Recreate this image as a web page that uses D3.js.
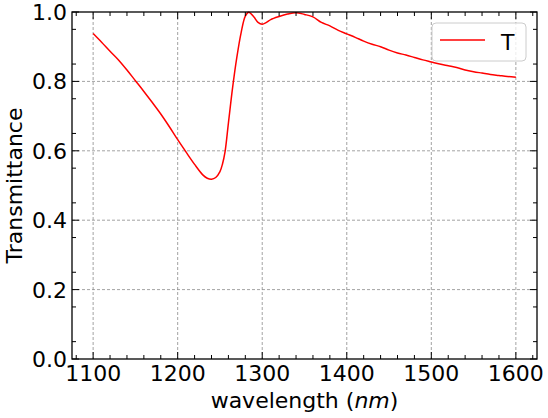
<!DOCTYPE html>
<html>
<head>
<meta charset="utf-8">
<script src="https://cdn.jsdelivr.net/npm/d3@7"></script>
<style>
  body { margin: 0; background: #fff; }
  text { font-family: "DejaVu Sans", sans-serif; }
</style>
</head>
<body>
<div id="chart"></div>
<script>
var wavelength = [1100, 1110, 1120, 1130, 1140, 1150, 1160, 1170, 1180, 1190,
    1200, 1210, 1220, 1230, 1235, 1240, 1245, 1250, 1253, 1256, 1260,
    1265, 1270, 1275, 1280, 1284, 1290, 1295, 1300, 1305, 1310,
    1320, 1330, 1340, 1350, 1360, 1370, 1380, 1390, 1400, 1410,
    1420, 1430, 1440, 1450, 1460, 1470, 1480, 1490, 1500, 1510,
    1520, 1530, 1540, 1550, 1560, 1570, 1580, 1590, 1600];
var transmittance = [0.938, 0.913, 0.887, 0.862, 0.833, 0.802, 0.771, 0.739, 0.706, 0.670,
    0.632, 0.596, 0.561, 0.530, 0.521, 0.518, 0.523, 0.540, 0.562, 0.597, 0.680,
    0.783, 0.870, 0.940, 0.988, 0.999, 0.986, 0.970, 0.965, 0.970, 0.978,
    0.987, 0.994, 0.998, 0.993, 0.986, 0.970, 0.960, 0.947, 0.937, 0.927,
    0.916, 0.907, 0.900, 0.890, 0.882, 0.876, 0.869, 0.862, 0.856, 0.850,
    0.845, 0.840, 0.833, 0.828, 0.824, 0.820, 0.817, 0.814, 0.812];
var xTicks = [1100, 1200, 1300, 1400, 1500, 1600];
var yTicks = [0.0, 0.2, 0.4, 0.6, 0.8, 1.0];
var seriesName = "T";

var svgWidth = 548;
var svgHeight = 418;
var margin = { top: 12, right: 11, bottom: 59, left: 72 };
var width = svgWidth - margin.left - margin.right;
var height = svgHeight - margin.top - margin.bottom;
var fontSize = "22px";

var svg = d3.select("#chart").append("svg")
    .attr("width", svgWidth)
    .attr("height", svgHeight);

var g = svg.append("g")
    .attr("transform", `translate(${margin.left}, ${margin.top})`);

var x = d3.scaleLinear().domain([1075, 1625]).range([0, width]);
var y = d3.scaleLinear().domain([0, 1]).range([height, 0]);

var xMinor = d3.range(1080, 1621, 20).filter(v => v % 100 !== 0);
var yMinor = d3.range(0.05, 1, 0.1);

// grid
g.selectAll(".vgrid").data(xTicks).enter().append("line")
    .attr("x1", d => x(d)).attr("x2", d => x(d))
    .attr("y1", 0).attr("y2", height)
    .attr("stroke", "#8c8c8c").attr("stroke-width", 0.8)
    .attr("stroke-dasharray", "3,2");
g.selectAll(".hgrid").data(yTicks.slice(1, -1)).enter().append("line")
    .attr("x1", 0).attr("x2", width)
    .attr("y1", d => y(d)).attr("y2", d => y(d))
    .attr("stroke", "#8c8c8c").attr("stroke-width", 0.8)
    .attr("stroke-dasharray", "3,2");

// curve
var line = d3.line()
    .x((d, i) => x(wavelength[i]))
    .y(d => y(d))
    .curve(d3.curveCatmullRom.alpha(0.5));

g.append("path")
    .datum(transmittance)
    .attr("fill", "none")
    .attr("stroke", "#ff0000")
    .attr("stroke-width", 1.5)
    .attr("d", line);

// ticks inside on all four sides
function ticks(vals, len) {
    vals.forEach(function(v) {
        g.append("line").attr("x1", x(v)).attr("x2", x(v))
            .attr("y1", height).attr("y2", height - len)
            .attr("stroke", "#000").attr("stroke-width", 1);
        g.append("line").attr("x1", x(v)).attr("x2", x(v))
            .attr("y1", 0).attr("y2", len)
            .attr("stroke", "#000").attr("stroke-width", 1);
    });
}
ticks(xTicks, 7);
ticks(xMinor, 4);

function yticks(vals, len) {
    vals.forEach(function(v) {
        g.append("line").attr("x1", 0).attr("x2", len)
            .attr("y1", y(v)).attr("y2", y(v))
            .attr("stroke", "#000").attr("stroke-width", 1);
        g.append("line").attr("x1", width).attr("x2", width - len)
            .attr("y1", y(v)).attr("y2", y(v))
            .attr("stroke", "#000").attr("stroke-width", 1);
    });
}
yticks(yTicks, 7);
yticks(yMinor, 4);

g.append("rect")
    .attr("width", width).attr("height", height)
    .attr("fill", "none").attr("stroke", "#000").attr("stroke-width", 1.3);

// tick labels
g.selectAll(".xl").data(xTicks).enter().append("text")
    .attr("x", d => x(d)).attr("y", height + 22)
    .attr("text-anchor", "middle")
    .attr("font-size", fontSize)
    .text(d => d);
g.selectAll(".yl").data(yTicks).enter().append("text")
    .attr("x", -5).attr("y", d => y(d) + 8)
    .attr("text-anchor", "end")
    .attr("font-size", fontSize)
    .text(d => d.toFixed(1));

// axis labels
var xl = svg.append("text")
    .attr("x", margin.left + width / 2).attr("y", 408)
    .attr("text-anchor", "middle")
    .attr("font-size", fontSize);
xl.append("tspan").text("wavelength (");
xl.append("tspan").attr("font-style", "italic").text("nm");
xl.append("tspan").text(")");

svg.append("text")
    .attr("transform", `translate(22, ${margin.top + height / 2}) rotate(-90)`)
    .attr("text-anchor", "middle")
    .attr("font-size", fontSize)
    .text("Transmittance");

// legend
var leg = svg.append("g").attr("transform", "translate(432, 23)");
leg.append("rect")
    .attr("width", 94).attr("height", 38)
    .attr("rx", 4)
    .attr("fill", "#fff").attr("fill-opacity", 0.8)
    .attr("stroke", "#cccccc").attr("stroke-width", 1);
leg.append("line")
    .attr("x1", 8).attr("x2", 53).attr("y1", 17).attr("y2", 17)
    .attr("stroke", "#ff0000").attr("stroke-width", 1.5);
leg.append("text")
    .attr("x", 69).attr("y", 27)
    .attr("font-size", fontSize)
    .text(seriesName);
</script>
</body>
</html>
